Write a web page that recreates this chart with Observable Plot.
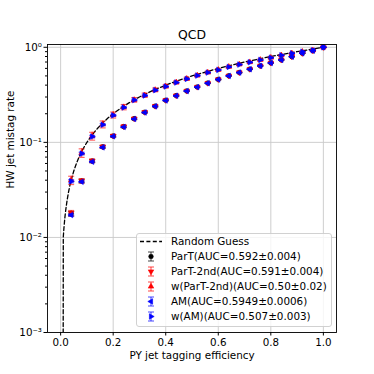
<!DOCTYPE html>
<html><head><meta charset="utf-8">
<script src="https://cdn.jsdelivr.net/npm/d3@7"></script>
<script src="https://cdn.jsdelivr.net/npm/@observablehq/plot@0.6"></script>
<style>
body{margin:0;background:#fff;font-family:"DejaVu Sans",sans-serif;}
#wrap{position:relative;width:374px;height:374px;}
#legend{position:absolute;left:0;top:0;pointer-events:none;}
</style></head><body><div id="wrap"></div>
<script>
// ---- data ----
const effX = [0.04,0.08,0.12,0.16,0.20,0.24,0.28,0.32,0.36,0.40,0.44,0.48,0.52,0.56,0.60,0.64,0.68,0.72,0.76,0.80,0.84,0.88,0.92,0.96,1.00];
const partVals   = [0.0178,0.0392,0.0636,0.0897,0.1168,0.1465,0.1775,0.2075,0.2405,0.2775,0.3105,0.3475,0.3825,0.4205,0.4595,0.5015,0.5435,0.5895,0.6385,0.6855,0.7375,0.7975,0.8655,0.9225,1.0];
const part2Vals  = [0.0180,0.0394,0.0640,0.0900,0.1172,0.1470,0.1780,0.2080,0.2410,0.2780,0.3110,0.3480,0.3830,0.4210,0.4600,0.5020,0.5440,0.5900,0.6390,0.6860,0.7380,0.7980,0.8660,0.9230,1.0];
const wPart2Vals = [0.0400,0.0775,0.1165,0.1550,0.1945,0.2350,0.2800,0.3135,0.3565,0.3895,0.4285,0.4675,0.5065,0.5445,0.5805,0.6245,0.6605,0.6985,0.7385,0.7795,0.8255,0.8665,0.9010,0.9310,1.0];
const amVals     = [0.0172,0.0385,0.0626,0.0886,0.1158,0.1452,0.1762,0.2062,0.2392,0.2762,0.3092,0.3462,0.3812,0.4192,0.4582,0.5002,0.5422,0.5882,0.6372,0.6842,0.7362,0.7962,0.8642,0.9212,1.0];
const wAmVals    = [0.0390,0.0762,0.1150,0.1535,0.1925,0.2330,0.2785,0.3110,0.3540,0.3870,0.4260,0.4650,0.5040,0.5420,0.5780,0.6220,0.6580,0.6960,0.7360,0.7770,0.8230,0.8640,0.8990,0.9290,1.0];
const partErr    = [0.0010,0.0018,0.0025,0.0030,0.0035,0.0038,0.0040,0.0042,0.0043,0.0044,0.0045,0.0045,0.0045,0.0045,0.0045,0.0045,0.0044,0.0043,0.0042,0.0040,0.0037,0.0033,0.0028,0.0020,0.0];
const part2Err   = [0.0012,0.0020,0.0027,0.0032,0.0036,0.0039,0.0041,0.0043,0.0044,0.0045,0.0046,0.0046,0.0046,0.0046,0.0046,0.0046,0.0045,0.0044,0.0043,0.0041,0.0038,0.0034,0.0029,0.0021,0.0];
const wPart2Err  = [0.0040,0.0080,0.0110,0.0130,0.0140,0.0150,0.0155,0.0160,0.0160,0.0165,0.0165,0.0165,0.0165,0.0165,0.0160,0.0160,0.0155,0.0150,0.0145,0.0140,0.0130,0.0115,0.0095,0.0070,0.0];
const amErr      = [0.0004,0.0006,0.0008,0.0009,0.0010,0.0010,0.0011,0.0011,0.0011,0.0011,0.0011,0.0011,0.0011,0.0011,0.0011,0.0011,0.0011,0.0011,0.0010,0.0010,0.0009,0.0008,0.0007,0.0005,0.0];
const wAmErr     = [0.0015,0.0025,0.0035,0.0040,0.0045,0.0048,0.0050,0.0052,0.0053,0.0054,0.0054,0.0054,0.0054,0.0054,0.0053,0.0052,0.0051,0.0050,0.0048,0.0046,0.0043,0.0038,0.0032,0.0024,0.0];
const guessX = [0,0.0101,0.0125,0.015,0.0175,0.02,0.025,0.03,0.035,0.04,0.05,0.06,0.07,0.08,0.09,0.1,0.12,0.14,0.16,0.18,0.2,0.23,0.26,0.3,0.35,0.4,0.45,0.5,0.6,0.7,0.8,0.9,1.0];
const seriesNames = ["ParT(AUC=0.592±0.004)","ParT-2nd(AUC=0.591±0.004)","w(ParT-2nd)(AUC=0.50±0.02)","AM(AUC=0.5949±0.0006)","w(AM)(AUC=0.507±0.003)"];
const guessName = "Random Guess";
const seriesColors = ["#000000","#ff0000","#ff0000","#0000ff","#0000ff"];
const xTickValues = [0,0.2,0.4,0.6,0.8,1.0];
const xTickLabels = ["0.0","0.2","0.4","0.6","0.8","1.0"];
const yTickValues = [1e-3,1e-2,1e-1,1];
const yTickLabels = ["10\u207B\u00B3","10\u207B\u00B2","10\u207B\u00B9","10\u2070"];
const titleText = "QCD";
const xLabel = "PY jet tagging efficiency";
const yLabel = "HW jet mistag rate";

// ---- symbols ----
function triSym(angle){
  return {draw(ctx,size){
    const r = Math.sqrt(size/Math.PI);
    for (let k=0;k<3;k++){
      const a = angle + k*2*Math.PI/3;
      const px = r*Math.cos(a), py = r*Math.sin(a);
      if(k===0) ctx.moveTo(px,py); else ctx.lineTo(px,py);
    }
    ctx.closePath();
  }};
}
const capSym = {draw(ctx,size){const r=Math.sqrt(size/Math.PI); ctx.moveTo(-r,0); ctx.lineTo(r,0);}};
const symbols = ["circle", triSym(Math.PI/2), triSym(-Math.PI/2), triSym(Math.PI), triSym(0)];
const symR = [2.3,3.2,3.2,3.2,3.2];

const valsList = [partVals,part2Vals,wPart2Vals,amVals,wAmVals];
const errList = [partErr,part2Err,wPart2Err,amErr,wAmErr];
const rows = [];
valsList.forEach((vals,si)=>vals.forEach((v,i)=>rows.push({x:effX[i], y:v, e:errList[si][i], s:si})));
const guessRows = guessX.map(x=>({x, y:x}));

const minorTicks = [];
[1e-3,1e-2,1e-1].forEach(d=>{for(let m=2;m<=9;m++) minorTicks.push(m*d);});

const marks = [
  Plot.gridX(xTickValues,{stroke:"#c8c8c8",strokeOpacity:1,strokeWidth:0.9}),
  Plot.gridY(yTickValues,{stroke:"#c8c8c8",strokeOpacity:1,strokeWidth:0.9}),
  Plot.line(guessRows,{x:"x", y:d=>Math.max(d.y,1e-30), stroke:"black", strokeWidth:1.3, strokeDasharray:"4,2.4", clip:true})
];
for (let si=0; si<5; si++){
  const data = rows.filter(r=>r.s===si);
  const c = seriesColors[si];
  marks.push(
    Plot.ruleX(data,{x:"x", y1:d=>d.y-d.e, y2:d=>d.y+d.e, stroke:c, strokeOpacity:0.6, strokeWidth:1.2}),
    Plot.dot(data,{x:"x", y:d=>d.y-d.e, symbol:capSym, r:3, fill:"none", stroke:c, strokeOpacity:0.6, strokeWidth:1.2}),
    Plot.dot(data,{x:"x", y:d=>d.y+d.e, symbol:capSym, r:3, fill:"none", stroke:c, strokeOpacity:0.6, strokeWidth:1.2}),
    Plot.dot(data,{x:"x", y:"y", symbol:symbols[si], r:symR[si], fill:c, stroke:c, strokeWidth:0.6})
  );
}
marks.push(
  Plot.frame({stroke:"black", strokeWidth:0.9}),
  Plot.axisX(xTickValues,{tickSize:3.5, tickPadding:3, tickFormat:(d)=>xTickLabels[xTickValues.indexOf(d)], label:null, fontSize:10.3}),
  Plot.axisY(yTickValues,{tickSize:3.5, tickPadding:2, tickFormat:(d)=>yTickLabels[yTickValues.indexOf(d)], label:null, fontSize:10.3}),
  Plot.axisY(minorTicks,{tickSize:2, tickFormat:()=>"", label:null}),
  Plot.text([titleText],{text:d=>d, frameAnchor:"top", dy:-9, fontSize:12.4, lineAnchor:"middle"}),
  Plot.text([xLabel],{text:d=>d, frameAnchor:"bottom", dy:23, fontSize:10.4, lineAnchor:"middle"}),
  Plot.text([yLabel],{text:d=>d, frameAnchor:"left", dx:-37, rotate:-90, fontSize:10.4, lineAnchor:"middle"})
);

const chart = Plot.plot({
  width:374, height:374,
  marginLeft:47, marginRight:38, marginTop:44, marginBottom:42,
  x:{domain:[-0.05,1.05]},
  y:{type:"log", domain:[1e-3,1.07]},
  style:{fontFamily:"DejaVu Sans, sans-serif", fontSize:"10px", background:"white", color:"black", overflow:"visible"},
  marks
});
const wrap = document.getElementById("wrap");
wrap.appendChild(chart);

// ---- legend overlay ----
const lg = d3.select(wrap).append("svg").attr("id","legend").attr("width",374).attr("height",374)
  .style("font-family","DejaVu Sans, sans-serif").style("font-size","10.4px");
lg.append("rect").attr("x",136.5).attr("y",233.5).attr("width",195).attr("height",93).attr("rx",2.5)
  .attr("fill","white").attr("fill-opacity",0.8).attr("stroke","#cccccc").attr("stroke-width",0.9);
const rowY = i => 241.5 + i*15;
lg.append("line").attr("x1",140).attr("x2",162).attr("y1",rowY(0)).attr("y2",rowY(0))
  .attr("stroke","black").attr("stroke-width",1.3).attr("stroke-dasharray","4,2.4");
lg.append("text").attr("x",171).attr("y",rowY(0)).attr("dy","0.35em").text(guessName);
const symPath = (s,r) => {
  if (s==="circle") return d3.symbol(d3.symbolCircle, Math.PI*r*r)();
  const p = d3.path(); s.draw(p, Math.PI*r*r); return p.toString();
};
seriesNames.forEach((name,si)=>{
  const y = rowY(si+1), x = 151, c = seriesColors[si];
  const g = lg.append("g");
  g.append("line").attr("x1",x).attr("x2",x).attr("y1",y-4.5).attr("y2",y+4.5).attr("stroke",c).attr("stroke-opacity",0.6).attr("stroke-width",1.2);
  g.append("line").attr("x1",x-3).attr("x2",x+3).attr("y1",y-4.5).attr("y2",y-4.5).attr("stroke",c).attr("stroke-opacity",0.6).attr("stroke-width",1.2);
  g.append("line").attr("x1",x-3).attr("x2",x+3).attr("y1",y+4.5).attr("y2",y+4.5).attr("stroke",c).attr("stroke-opacity",0.6).attr("stroke-width",1.2);
  g.append("path").attr("d",symPath(symbols[si],symR[si])).attr("transform",`translate(${x},${y})`).attr("fill",c).attr("stroke",c).attr("stroke-width",0.6);
  lg.append("text").attr("x",171).attr("y",y).attr("dy","0.35em").text(name);
});
</script></body></html>
